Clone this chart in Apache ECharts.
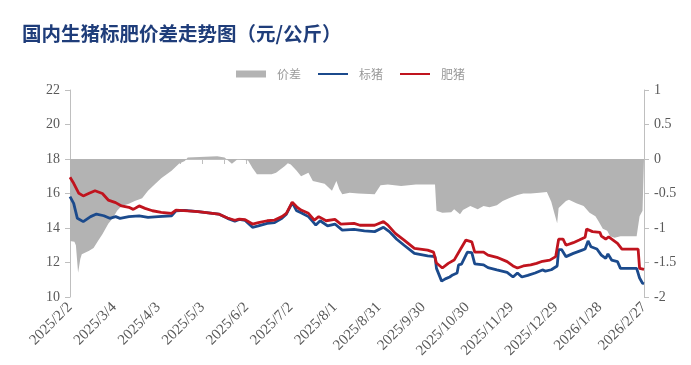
<!DOCTYPE html>
<html>
<head>
<meta charset="utf-8">
<script src="https://cdn.jsdelivr.net/npm/echarts@6/dist/echarts.min.js"></script>
<style>html,body{margin:0;padding:0;background:#fff}#c{width:691px;height:365px}</style>
</head>
<body>
<div id="c"></div>
<script>
// day index counted from 2025/2/2
const standardDays  = [0,2.5,5,9,14,18,23,27,31,34,40,47,53,60,69,72,78,87,101,107,112,115,119,124,128,134,139,144,147,151,154,157,162,165,167,170,175,180,185,193,200,207,213,217,222,227,234,243,248,249,252.5,255,258,260,263,264,266,270,273,275,281,284,290,297,301,304,307,311,316,321,323,327,331,332,334,337,342,348,350,352,354,358,361,364,365.5,368,372,374,385,387,389,390];
const standardPrice = [15.82,15.43,14.56,14.37,14.66,14.81,14.71,14.56,14.66,14.56,14.66,14.70,14.62,14.66,14.71,15.0,15.02,14.95,14.81,14.56,14.40,14.50,14.44,14.04,14.12,14.27,14.31,14.56,14.80,15.47,15.0,14.89,14.66,14.37,14.17,14.42,14.12,14.23,13.88,13.92,13.83,13.79,14.04,13.79,13.35,13.00,12.53,12.38,12.34,11.66,10.92,11.05,11.16,11.28,11.39,11.86,11.9,12.6,12.57,11.92,11.86,11.70,11.57,11.43,11.16,11.39,11.16,11.25,11.39,11.57,11.50,11.58,11.8,12.75,12.75,12.34,12.53,12.72,12.78,13.25,12.91,12.78,12.43,12.24,12.5,12.14,12.05,11.66,11.66,11.1,10.8,10.77];

const fatDays  = [0,2.5,6,9,13,17,22,26,31,35,40,43,47,51,56,62,69,72,80,87,101,107,112,115,119,124,128,134,139,144,147,151,154,157,162,166,169,174,180,184,193,197,207,213,216,221,227,234,243,247,249,253,257,261,265,269,273,275,281,284,290,297,301,304,308,313,317,321,326,330,332,335,337,342,346,350,351,355,360,361,364,366,369,372,375,386,387,390];
const fatPrice = [16.94,16.59,16.01,15.86,16.01,16.16,16.0,15.62,15.47,15.28,15.2,15.08,15.28,15.14,15.0,14.91,14.85,15.04,14.99,14.95,14.81,14.58,14.45,14.52,14.48,14.23,14.31,14.42,14.46,14.66,14.85,15.5,15.23,15.04,14.85,14.46,14.66,14.42,14.5,14.23,14.27,14.16,14.16,14.37,14.17,13.69,13.3,12.82,12.72,12.6,11.97,11.68,11.95,12.14,12.72,13.3,13.2,12.6,12.6,12.43,12.3,12.05,11.8,11.68,11.8,11.86,11.95,12.07,12.14,12.34,13.35,13.35,13.0,13.15,13.3,13.46,13.94,13.79,13.75,13.53,13.36,13.48,13.3,13.11,12.78,12.78,11.66,11.6];

const spreadDays = [0,3,4,5.5,7,8,13,16,19,22,26,29,32,35,40,44,49,53,58,62,69,74,78,80,100,105,110,114,121,124,127,137,140,146,148,150,154,157,162,165,173,178,181,183,185,190,196,207,211,216,225,235,248,249,253,259,261,265,267,272,277,281,285,290,294,299,304,308,313,319,324,327,329,331,332,337,339,344,349,353,357,359,362,365,367,370,374,385,387,389,390];
const spreadVals = [-1.19,-1.2,-1.25,-1.65,-1.45,-1.38,-1.33,-1.29,-1.19,-1.09,-0.94,-0.86,-0.75,-0.68,-0.65,-0.61,-0.57,-0.46,-0.36,-0.28,-0.17,-0.07,-0.03,0.02,0.04,0.02,-0.07,0,-0.02,-0.13,-0.22,-0.22,-0.2,-0.1,-0.06,-0.08,-0.17,-0.25,-0.2,-0.32,-0.36,-0.46,-0.32,-0.44,-0.51,-0.49,-0.5,-0.51,-0.38,-0.37,-0.39,-0.37,-0.37,-0.75,-0.78,-0.77,-0.73,-0.8,-0.74,-0.68,-0.73,-0.68,-0.7,-0.67,-0.61,-0.56,-0.52,-0.5,-0.5,-0.49,-0.48,-0.62,-0.78,-0.93,-0.71,-0.61,-0.59,-0.64,-0.68,-0.78,-0.83,-0.9,-1.01,-1.04,-1.12,-1.14,-1.12,-1.12,-0.83,-0.75,-0.75];

const leftTicks = {min: 10, max: 22, interval: 2};
const rightTicks = {min: -2, max: 1, interval: 0.5};
const xRange = {min: 0, max: 390, interval: 15, labelEvery: 30};

function pairs(xs, ys){ return xs.map((x,i)=>[x, ys[i]]); }
function dayLabel(v){
  if (v % xRange.labelEvery !== 0) return '';
  const d = new Date(2025, 1, 2 + v);
  return d.getFullYear() + '/' + (d.getMonth()+1) + '/' + d.getDate();
}

const axisGray = '#bfbfbf';
const labelColor = '#595959';
const serif = 'Liberation Serif';
const blue = '#1b4a8c', red = '#c0141e', gray = '#b3b3b3';

const chart = echarts.init(document.getElementById('c'));
chart.setOption({
  animation: false,
  backgroundColor: '#fff',
  title: {
    text: '国内生猪标肥价差走势图（元/公斤）',
    left: 17, top: 19,
    textStyle: {fontFamily: 'Noto Sans CJK SC', fontWeight: 'bold', fontSize: 19.5, color: '#1f3d7a'}
  },
  legend: {
    left: 231, top: 63,
    itemWidth: 30, itemHeight: 7, itemGap: 16,
    textStyle: {fontFamily: 'Noto Sans CJK SC', fontSize: 12, color: '#999', padding: [0, 0, 0, 6]},
    data: [
      {name: '价差', icon: 'rect', itemStyle: {color: gray}},
      {name: '标猪', itemStyle: {opacity: 0}, lineStyle: {color: blue, width: 2}},
      {name: '肥猪', itemStyle: {opacity: 0}, lineStyle: {color: red, width: 2}}
    ]
  },
  grid: {left: 70, right: 47, top: 90, bottom: 68},
  xAxis: {
    type: 'value', min: xRange.min, max: xRange.max, interval: xRange.interval,
    splitLine: {show: false},
    axisLine: {show: true, lineStyle: {color: axisGray, width: 1}},
    axisTick: {show: true, length: 5, lineStyle: {color: axisGray}},
    axisLabel: {formatter: dayLabel, rotate: 45, fontFamily: serif, fontSize: 15, color: labelColor, margin: 8, showMinLabel: true, showMaxLabel: true}
  },
  yAxis: [
    {
      type: 'value', min: leftTicks.min, max: leftTicks.max, interval: leftTicks.interval,
      splitLine: {show: false},
      axisLine: {show: true, lineStyle: {color: axisGray}},
      axisTick: {show: true, length: 5, lineStyle: {color: axisGray}},
      axisLabel: {fontFamily: serif, fontSize: 14, color: labelColor, margin: 10}
    },
    {
      type: 'value', min: rightTicks.min, max: rightTicks.max, interval: rightTicks.interval,
      position: 'right',
      splitLine: {show: false},
      axisLine: {show: true, lineStyle: {color: axisGray}},
      axisTick: {show: true, length: 5, lineStyle: {color: axisGray}},
      axisLabel: {fontFamily: serif, fontSize: 14, color: labelColor, margin: 10}
    }
  ],
  series: [
    {
      name: '价差', type: 'line', yAxisIndex: 1, symbol: 'none',
      data: pairs(spreadDays, spreadVals),
      lineStyle: {width: 0, color: gray},
      itemStyle: {color: gray},
      areaStyle: {color: gray, opacity: 1},
      z: 1
    },
    {
      name: '标猪', type: 'line', yAxisIndex: 0, symbol: 'none',
      data: pairs(standardDays, standardPrice),
      lineStyle: {width: 2.8, color: blue},
      itemStyle: {color: blue},
      z: 3
    },
    {
      name: '肥猪', type: 'line', yAxisIndex: 0, symbol: 'none',
      data: pairs(fatDays, fatPrice),
      lineStyle: {width: 2.8, color: red},
      itemStyle: {color: red},
      z: 4
    }
  ]
});
</script>
</body>
</html>
